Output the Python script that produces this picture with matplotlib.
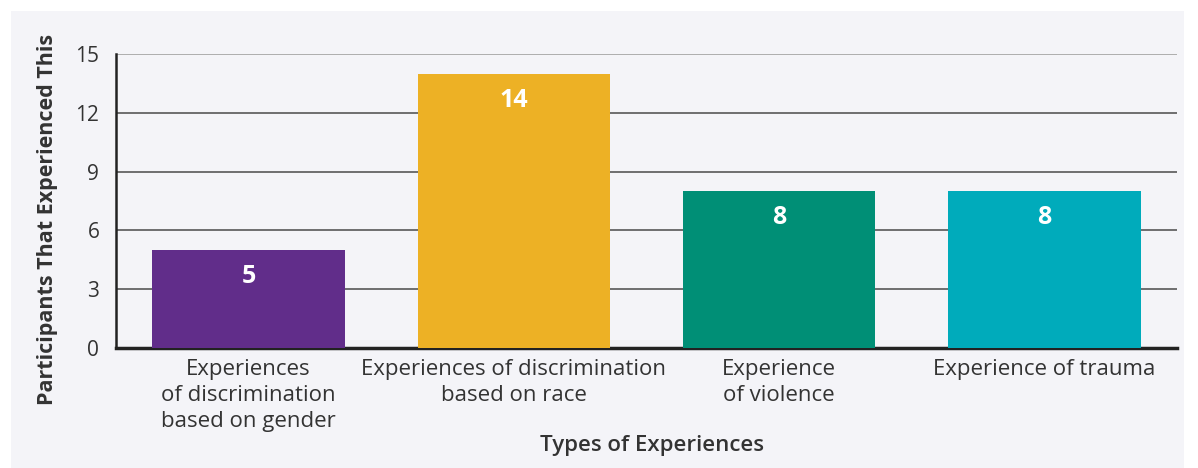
import matplotlib
matplotlib.use("Agg")
import matplotlib.pyplot as plt
from matplotlib.patches import Rectangle

categories = [
    "Experiences\nof discrimination\nbased on gender",
    "Experiences of discrimination\nbased on race",
    "Experience\nof violence",
    "Experience of trauma",
]
values = [5, 14, 8, 8]
colors = ["#612d8a", "#edb125", "#008f76", "#00abbb"]
yticks = [0, 3, 6, 9, 12, 15]

plt.rcParams['font.family'] = ['Open Sans', 'DejaVu Sans']
W, H = 1198, 468
fig = plt.figure(figsize=(W / 100, H / 100), dpi=100, facecolor="white")
panel_bg = "#f4f4f8"
fig.patches.append(Rectangle((11 / W, 0), (1184 - 11) / W, (H - 11) / H,
                             transform=fig.transFigure, facecolor=panel_bg,
                             edgecolor="none", zorder=-10))

left, right, top, bottom = 116, 1177, 54, 348
ax = fig.add_axes([left / W, 1 - bottom / H, (right - left) / W, (bottom - top) / H])
ax.set_zorder(5)
ax.set_facecolor(panel_bg)

x = list(range(len(categories)))
bars = ax.bar(x, values, width=0.725, color=colors, zorder=3)
for xi, v in zip(x, values):
    ax.text(xi, v - 1.35, str(v), ha="center", va="center", color="white",
            fontsize=18, fontweight="bold", zorder=4)

ax.set_xlim(-0.5, 3.5)
ax.set_ylim(0, 15)
ax.set_yticks(yticks)
ax.set_yticklabels([str(t) for t in yticks])
for t in yticks[1:]:
    ax.axhline(t, color="#9a9a9a" if t == 15 else "#4a4a4a", lw=1.1, zorder=1)

ax.set_xticks(x)
ax.set_xticklabels(categories, fontsize=16, color="#333333", linespacing=1.3, va="top")
ax.tick_params(axis="both", length=0, colors="#333333")
ax.tick_params(axis="x", pad=8, labelsize=16)
ax.tick_params(axis="y", pad=12, labelsize=15)

for s in ["top", "right"]:
    ax.spines[s].set_visible(False)
ax.spines["left"].set_color("#222222")
ax.spines["left"].set_linewidth(1.8)
ax.spines["bottom"].set_color("#222222")
ax.spines["bottom"].set_linewidth(2.5)

fig.text(48 / W, 1 - 219 / H, "Participants That Experienced This", rotation=90,
         ha="center", va="center", fontsize=15.5, fontweight="bold", color="#333333")
fig.text(652 / W, 1 - 445 / H, "Types of Experiences", ha="center", va="center",
         fontsize=16, fontweight="semibold", color="#333333")

fig.savefig("out.png", dpi=100, facecolor="white")
